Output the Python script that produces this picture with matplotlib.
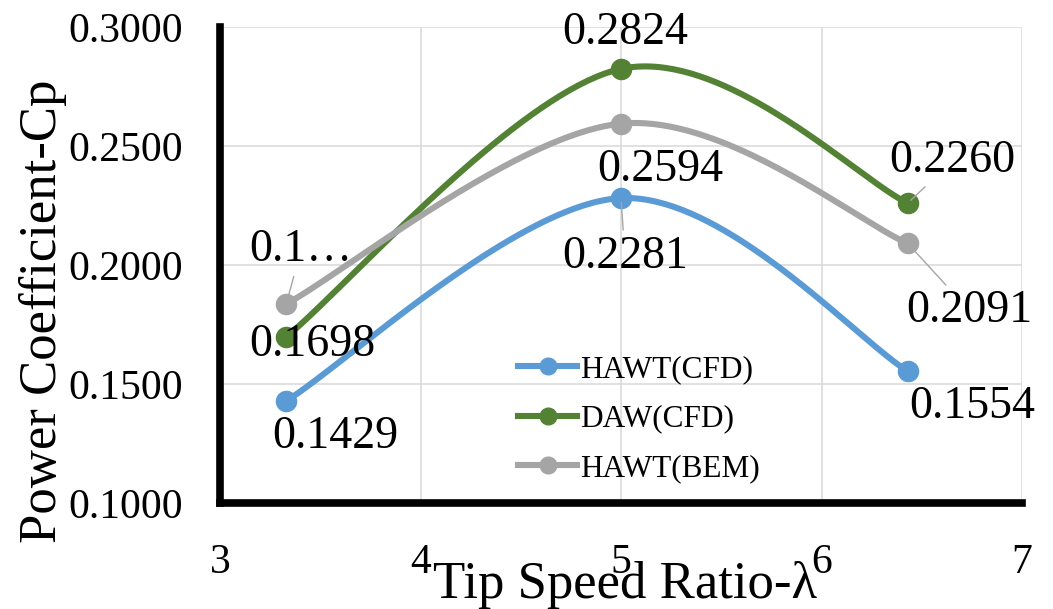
import numpy as np
import matplotlib
matplotlib.use("Agg")
import matplotlib.pyplot as plt
from matplotlib.lines import Line2D

# Tip speed ratios and power coefficients
tsr = [3.33, 5.0, 6.43]
hawt_cfd = [0.1429, 0.2281, 0.1554]
daw_cfd = [0.1698, 0.2824, 0.2260]
hawt_bem = [0.1836, 0.2594, 0.2091]

series_names = ["HAWT(CFD)", "DAW(CFD)", "HAWT(BEM)"]
colors = ["#5B9BD5", "#548235", "#A5A5A5"]

x_ticks = [3, 4, 5, 6, 7]
y_ticks = [0.10, 0.15, 0.20, 0.25, 0.30]

plt.rcParams["font.family"] = ["Liberation Serif", "DejaVu Serif"]


def smooth_curve(x, y, n=80):
    """Piecewise cubic Bezier through the points (Catmull-Rom style tangents)."""
    pts = np.column_stack([x, y]).astype(float)
    out = []
    last = len(pts) - 1
    t = np.linspace(0, 1, n)[:, None]
    for i in range(last):
        p0 = pts[max(i - 1, 0)]
        p1 = pts[i]
        p2 = pts[i + 1]
        p3 = pts[min(i + 2, last)]
        c1 = p1 + (p2 - p0) / 6.0
        c2 = p2 - (p3 - p1) / 6.0
        seg = ((1 - t) ** 3) * p1 + 3 * ((1 - t) ** 2) * t * c1 \
            + 3 * (1 - t) * (t ** 2) * c2 + (t ** 3) * p2
        out.append(seg if i == 0 else seg[1:])
    s = np.vstack(out)
    return s[:, 0], s[:, 1]


fig = plt.figure(figsize=(10.53, 6.09), dpi=100)
ax = fig.add_axes([220 / 1053, 1 - 503 / 609, (1022 - 220) / 1053, (503 - 27) / 609])

lw = 4.4
ms = 14.5
all_series = [hawt_cfd, daw_cfd, hawt_bem]
for vals, col in zip(all_series, colors):
    sx, sy = smooth_curve(tsr, vals)
    ax.plot(sx, sy, color=col, lw=lw, solid_capstyle="round", zorder=3)
    ax.plot(tsr, vals, "o", color=col, ms=ms, mec=col, zorder=4)

# data labels: (series, index, text, dx px, dy px, leader)
px = 0.72
label_specs = [
    (hawt_cfd, 0, "{:.4f}", 49, -47, False),
    (hawt_cfd, 1, "{:.4f}", 4, -70, True),
    (hawt_cfd, 2, "{:.4f}", 65, -47, False),
    (daw_cfd, 0, "{:.4f}", 26, -19, False),
    (daw_cfd, 1, "{:.4f}", 4, 25, False),
    (daw_cfd, 2, "{:.4f}", 45, 31, True),
    (hawt_bem, 0, "0.1…", 15, 43, True),
    (hawt_bem, 1, "{:.4f}", 39, -57, False),
    (hawt_bem, 2, "{:.4f}", 62, -79, True),
]
for vals, i, fmt, dx, dy, leader in label_specs:
    txt = fmt.format(vals[i]) if "{" in fmt else fmt
    kw = {}
    if leader:
        kw["arrowprops"] = dict(arrowstyle="-", color="#A5A5A5", lw=1.0,
                                shrinkA=2, shrinkB=3)
    ax.annotate(txt, xy=(tsr[i], vals[i]), xytext=(dx * px, dy * px),
                textcoords="offset points", ha="center", va="baseline",
                fontsize=33, color="black", zorder=6, **kw)

ax.set_xlim(3, 7)
ax.set_ylim(0.1, 0.3)
ax.set_xticks(x_ticks)
ax.set_yticks(y_ticks)
ax.set_yticklabels([f"{v:.4f}" for v in y_ticks])
ax.tick_params(axis="both", length=0, labelsize=30)
ax.tick_params(axis="x", pad=29)
ax.tick_params(axis="y", pad=27)

ax.grid(True, color="#D9D9D9", lw=1.1, zorder=0)
ax.set_axisbelow(True)
for side in ["top", "right"]:
    ax.spines[side].set_visible(False)
for side in ["left", "bottom"]:
    ax.spines[side].set_linewidth(5.5)
    ax.spines[side].set_color("black")
    ax.spines[side].set_zorder(5)

fig.text(625 / 1053, 1 - 598 / 609, "Tip Speed Ratio-λ", fontsize=38,
         ha="center", va="baseline")
fig.text(43 / 1053, 1 - 311 / 609, "Power Coefficient-Cp", fontsize=38,
         ha="center", va="center", rotation=90)

handles = [Line2D([0], [0], color=c, lw=lw, marker="o", ms=12, mec=c)
           for c in colors]
ax.legend(handles, series_names, loc="upper left",
          bbox_to_anchor=(518 / 1053, 1 - 355 / 609),
          bbox_transform=fig.transFigure, frameon=False, fontsize=22.5,
          handlelength=1.9, handletextpad=0.1, labelspacing=0.66,
          borderpad=0, borderaxespad=0)

fig.savefig("out.png", dpi=100)
